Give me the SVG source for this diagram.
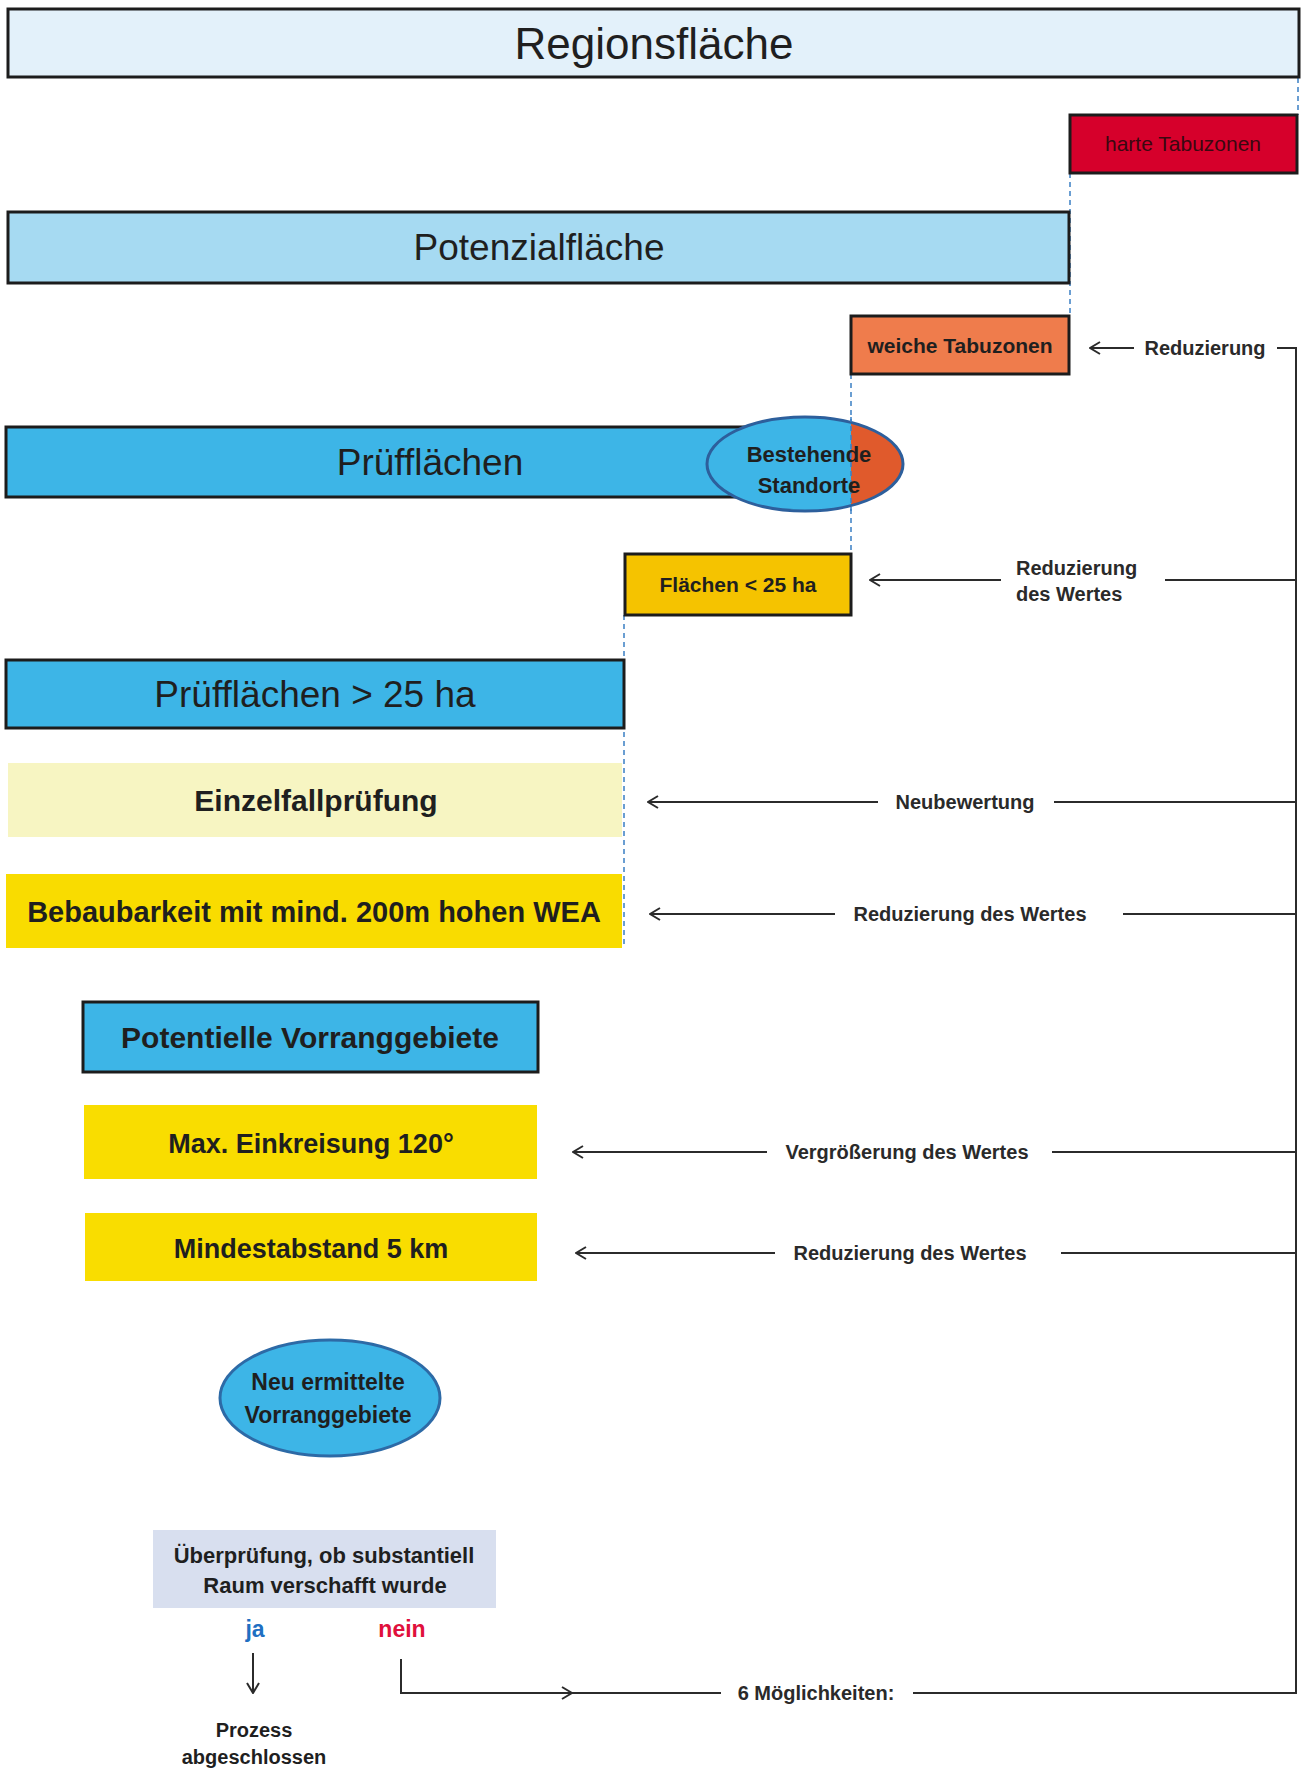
<svg xmlns="http://www.w3.org/2000/svg" width="1301" height="1769" viewBox="0 0 1301 1769">
<style>
  .t { font-family: "Liberation Sans", Arial, sans-serif; fill: #1f1f1f; text-anchor: middle; }
  .b { font-weight: bold; }
  .bar { stroke: #1c1c1c; stroke-width: 3; }
  .guide { stroke: #3a7fc4; stroke-width: 1.5; stroke-dasharray: 5 4; fill: none; }
  .conn { stroke: #2b2b2b; stroke-width: 2; fill: none; }
  .lbl { font-family: "Liberation Sans", Arial, sans-serif; font-weight: bold; font-size: 20px; fill: #2a2a2a; }
</style>
<defs>
  <marker id="arr" viewBox="0 0 12 14" refX="11" refY="7" markerWidth="12" markerHeight="14" markerUnits="userSpaceOnUse" orient="auto">
    <path d="M1,1 L11,7 L1,13" fill="none" stroke="#2b2b2b" stroke-width="2"/>
  </marker>
  <clipPath id="rightOf851">
    <rect x="851" y="400" width="100" height="130"/>
  </clipPath>
</defs>
<rect width="1301" height="1769" fill="#ffffff"/>

<g id="guides">
  <line class="guide" x1="1298" y1="78" x2="1298" y2="115"/>
  <line class="guide" x1="1070" y1="173" x2="1070" y2="316"/>
  <line class="guide" x1="851" y1="374" x2="851" y2="554"/>
  <line class="guide" x1="624" y1="615" x2="624" y2="948"/>
</g>

<g id="regionsflaeche">
  <rect class="bar" x="8" y="9" width="1291" height="68" fill="#e3f1fa"/>
  <text class="t" x="654" y="59" font-size="44">Regionsfläche</text>
</g>

<g id="harte-tabuzonen">
  <rect class="bar" x="1070" y="115" width="227" height="58" fill="#d6002b" stroke-width="2.5"/>
  <text class="t" x="1183" y="151" font-size="21" fill="#3a0810" style="fill:#3a0810">harte Tabuzonen</text>
</g>

<g id="potenzialflaeche">
  <rect class="bar" x="8" y="212" width="1061" height="71" fill="#a6daf2"/>
  <text class="t" x="539" y="260" font-size="37">Potenzialfläche</text>
</g>

<g id="weiche-tabuzonen">
  <rect class="bar" x="851" y="316" width="218" height="58" fill="#ef7c4c" stroke-width="2.5"/>
  <text class="t b" x="960" y="353" font-size="21">weiche Tabuzonen</text>
</g>

<g id="prueflaechen">
  <rect class="bar" x="6" y="427" width="845" height="70" fill="#3db5e7"/>
  <text class="t" x="430" y="475" font-size="37">Prüfflächen</text>
</g>

<g id="bestehende-standorte">
  <ellipse cx="805" cy="464" rx="98" ry="47" fill="#3db5e7"/>
  <ellipse cx="805" cy="464" rx="98" ry="47" fill="#e05a2c" clip-path="url(#rightOf851)"/>
  <ellipse cx="805" cy="464" rx="98" ry="47" fill="none" stroke="#2d5f9c" stroke-width="3"/>
  <line class="guide" x1="851" y1="417" x2="851" y2="511"/>
  <text class="t b" x="809" y="462" font-size="22">Bestehende</text>
  <text class="t b" x="809" y="493" font-size="22">Standorte</text>
</g>

<g id="flaechen-unter-25ha">
  <rect class="bar" x="625" y="554" width="226" height="61" fill="#f5c300" stroke-width="2.5"/>
  <text class="t b" x="738" y="592" font-size="21">Flächen &lt; 25 ha</text>
</g>

<g id="prueflaechen-ueber-25ha">
  <rect class="bar" x="6" y="660" width="618" height="68" fill="#3db5e7"/>
  <text class="t" x="315" y="707" font-size="37">Prüfflächen &gt; 25 ha</text>
</g>

<g id="einzelfallpruefung">
  <rect x="8" y="763" width="614" height="74" fill="#f7f5c2"/>
  <text class="t b" x="316" y="811" font-size="30">Einzelfallprüfung</text>
</g>

<g id="bebaubarkeit">
  <rect x="6" y="874" width="616" height="74" fill="#f9dc00"/>
  <text class="t b" x="314" y="922" font-size="29">Bebaubarkeit mit mind. 200m hohen WEA</text>
</g>

<g id="potentielle-vorranggebiete">
  <rect class="bar" x="83" y="1002" width="455" height="70" fill="#3db5e7"/>
  <text class="t b" x="310" y="1048" font-size="30">Potentielle Vorranggebiete</text>
</g>

<g id="max-einkreisung">
  <rect x="84" y="1105" width="453" height="74" fill="#f9dd00"/>
  <text class="t b" x="311" y="1153" font-size="27">Max. Einkreisung 120°</text>
</g>

<g id="mindestabstand">
  <rect x="85" y="1213" width="452" height="68" fill="#f9dd00"/>
  <text class="t b" x="311" y="1258" font-size="27">Mindestabstand 5 km</text>
</g>

<g id="neu-ermittelte-vorranggebiete">
  <ellipse cx="330" cy="1398" rx="110" ry="58" fill="#3db5e7" stroke="#2d6aa6" stroke-width="3"/>
  <text class="t b" x="328" y="1390" font-size="23">Neu ermittelte</text>
  <text class="t b" x="328" y="1423" font-size="23">Vorranggebiete</text>
</g>

<g id="ueberpruefung">
  <rect x="153" y="1530" width="343" height="78" fill="#d8dfef"/>
  <text class="t b" x="324" y="1563" font-size="22">Überprüfung, ob substantiell</text>
  <text class="t b" x="325" y="1593" font-size="22">Raum verschafft wurde</text>
</g>

<g id="ja">
  <text class="t b" x="255" y="1637" font-size="23" style="fill:#1f6fc2">ja</text>
</g>

<g id="nein">
  <text class="t b" x="402" y="1637" font-size="23" style="fill:#e0103c">nein</text>
</g>

<g id="prozess-abgeschlossen">
  <text class="t b" x="254" y="1737" font-size="20">Prozess</text>
  <text class="t b" x="254" y="1764" font-size="20">abgeschlossen</text>
</g>

<g id="connectors">
  <!-- ja arrow -->
  <line class="conn" x1="253" y1="1653" x2="253" y2="1693" marker-end="url(#arr)"/>
  <!-- nein feedback loop -->
  <path class="conn" d="M401,1659 V1693 H572" marker-end="url(#arr)"/>
  <line class="conn" x1="572" y1="1693" x2="721" y2="1693"/>
  <text class="lbl" x="816" y="1700" text-anchor="middle">6 Möglichkeiten:</text>
  <path class="conn" d="M913,1693 H1296 V348 H1277"/>

  <!-- weiche Tabuzonen -->
  <line class="conn" x1="1134" y1="348" x2="1090" y2="348" marker-end="url(#arr)"/>
  <text class="lbl" x="1205" y="355" text-anchor="middle">Reduzierung</text>

  <!-- Flächen < 25 ha -->
  <line class="conn" x1="1296" y1="580" x2="1165" y2="580"/>
  <line class="conn" x1="1001" y1="580" x2="870" y2="580" marker-end="url(#arr)"/>
  <text class="lbl" x="1016" y="575">Reduzierung</text>
  <text class="lbl" x="1016" y="601">des Wertes</text>

  <!-- Einzelfallprüfung -->
  <line class="conn" x1="1296" y1="802" x2="1054" y2="802"/>
  <line class="conn" x1="878" y1="802" x2="648" y2="802" marker-end="url(#arr)"/>
  <text class="lbl" x="965" y="809" text-anchor="middle">Neubewertung</text>

  <!-- Bebaubarkeit -->
  <line class="conn" x1="1296" y1="914" x2="1123" y2="914"/>
  <line class="conn" x1="835" y1="914" x2="650" y2="914" marker-end="url(#arr)"/>
  <text class="lbl" x="970" y="921" text-anchor="middle">Reduzierung des Wertes</text>

  <!-- Max. Einkreisung -->
  <line class="conn" x1="1296" y1="1152" x2="1052" y2="1152"/>
  <line class="conn" x1="767" y1="1152" x2="573" y2="1152" marker-end="url(#arr)"/>
  <text class="lbl" x="907" y="1159" text-anchor="middle">Vergrößerung des Wertes</text>

  <!-- Mindestabstand -->
  <line class="conn" x1="1296" y1="1253" x2="1061" y2="1253"/>
  <line class="conn" x1="775" y1="1253" x2="576" y2="1253" marker-end="url(#arr)"/>
  <text class="lbl" x="910" y="1260" text-anchor="middle">Reduzierung des Wertes</text>
</g>
</svg>
